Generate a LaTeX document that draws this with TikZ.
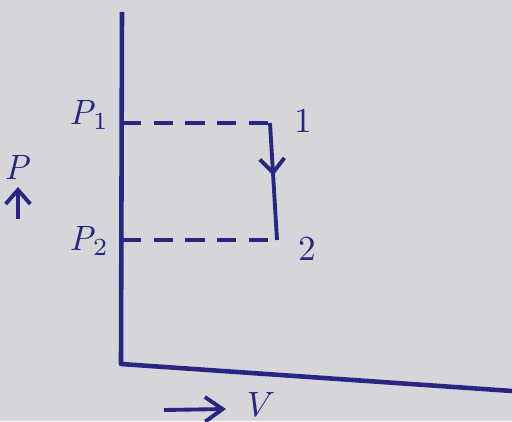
\documentclass[tikz,border=0pt]{standalone}
\usetikzlibrary{arrows.meta,decorations.markings}

\definecolor{ink}{RGB}{40,38,130}
\definecolor{paper}{RGB}{214,214,218}
\newcommand{\pr}[1]{\mathit{P}_{#1}}

\begin{document}
\begin{tikzpicture}[x=0.01cm, y=0.01cm, line width=1.1pt, ink,
    axis/.style={draw=ink, line width=1.3pt, line join=round},
    guide/.style={draw=ink, dash pattern=on 5.5pt off 3.5pt, line width=1.1pt},
    lbl/.style={text=ink, font=\normalsize, inner sep=1pt},
    midarrow/.style={postaction={decorate}, decoration={markings,
        mark=at position 0.45 with {\arrow{Straight Barb[length=4pt,width=7pt]}}}}]
  \fill[paper] (0,0) rectangle (512,421);
  \useasboundingbox (0,0) rectangle (512,421);
  % axes
  \coordinate (top) at (122,409);
  \coordinate (O) at (121,57);
  \coordinate (right) at (512,30);
  \draw[axis] (top) -- (O) -- (right);
  % states
  \coordinate (p1) at (122,298);
  \coordinate (p2) at (122,181);
  \coordinate (s1) at (270,298);
  \coordinate (s2) at (277,181);
  \draw[guide] (p1) -- (s1);
  \draw[guide] (p2) -- (s2);
  \draw[midarrow] (s1) -- (s2);
  % labels
  \node[lbl] (lp1) at (89,306) {$\pr{1}$};
  \node[lbl] (lp2) at (89,180) {$\pr{2}$};
  \node[lbl] (l1) at (303,300) {$1$};
  \node[lbl] (l2) at (307,172) {$2$};
  \node[lbl] (lP) at (18,254) {$\mathit{P}$};
  \coordinate (pa) at (18,202);
  \coordinate (pb) at (18,234);
  \draw[-{Straight Barb[length=4pt,width=7pt]}] (pa) -- (pb);
  \coordinate (va) at (164,11);
  \coordinate (vb) at (226,12);
  \draw[-{Straight Barb[length=5pt,width=7pt]}] (va) -- (vb);
  \node[lbl] (lV) at (261,17) {$V$};
\end{tikzpicture}
\end{document}
